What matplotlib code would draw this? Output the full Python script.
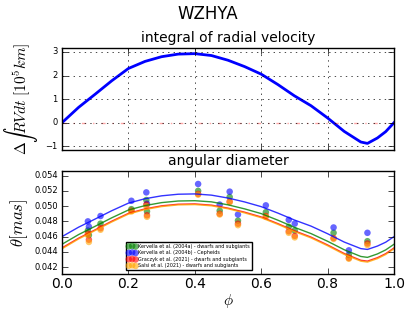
import matplotlib
matplotlib.use("Agg")
import matplotlib.pyplot as plt

plt.style.use('classic')

# phase grid for the model curves
phase = [0, .05, .1, .15, .2, .25, .3, .35, .4, .45, .5, .55, .6, .65, .7, .75, .8, .85, .9, .92, .95, .975, 1]
# integral of radial velocity [10^5 km]
rv_int = [0, 0.65, 1.21, 1.78, 2.3, 2.6, 2.8, 2.91, 2.93, 2.85, 2.65, 2.38, 2.06, 1.62, 1.14, 0.72, 0.2,
          -0.37, -0.82, -0.88, -0.65, -0.38, 0]

# model angular diameters [mas]
theta_kerv_dw = [0.04500, 0.04627, 0.04736, 0.04847, 0.04949, 0.05007, 0.05046, 0.05067, 0.05071, 0.05056,
                 0.05017, 0.04964, 0.04902, 0.04816, 0.04722, 0.04640, 0.04539, 0.04428, 0.04340, 0.04328,
                 0.04373, 0.04426, 0.04500]
theta_kerv_cep = [0.04600, 0.04724, 0.04831, 0.04940, 0.05039, 0.05097, 0.05135, 0.05156, 0.05160, 0.05144,
                  0.05106, 0.05055, 0.04993, 0.04909, 0.04818, 0.04738, 0.04638, 0.04529, 0.04443, 0.04432,
                  0.04476, 0.04527, 0.04600]
theta_gracz = [0.04452, 0.04580, 0.04690, 0.04803, 0.04905, 0.04964, 0.05004, 0.05025, 0.05029, 0.05013,
               0.04974, 0.04921, 0.04858, 0.04771, 0.04677, 0.04594, 0.04491, 0.04379, 0.04290, 0.04279,
               0.04324, 0.04377, 0.04452]
theta_salsi = [0.04440, 0.04569, 0.04680, 0.04792, 0.04895, 0.04955, 0.04994, 0.05016, 0.05020, 0.05004,
               0.04965, 0.04911, 0.04848, 0.04761, 0.04666, 0.04583, 0.04480, 0.04367, 0.04278, 0.04266,
               0.04311, 0.04365, 0.04440]

# observed epochs
obs_phase = [0.078, 0.081, 0.116, 0.209, 0.254, 0.256, 0.41, 0.475, 0.505, 0.53, 0.614, 0.683, 0.701,
             0.818, 0.864, 0.92]
obs_kerv_dw = [0.0468, 0.0462, 0.0477, 0.0496, 0.0508, 0.0493, 0.0520, 0.0494, 0.0512, 0.0481, 0.0492,
               0.0473, 0.0468, 0.0465, 0.0436, 0.0454]
obs_kerv_cep = [0.0480, 0.0473, 0.0487, 0.0507, 0.0518, 0.0503, 0.0529, 0.0502, 0.0519, 0.0489, 0.0501,
                0.0482, 0.0477, 0.0472, 0.0442, 0.0465]
obs_gracz = [0.0464, 0.0456, 0.0471, 0.0494, 0.0502, 0.0488, 0.0516, 0.0490, 0.0506, 0.0477, 0.0487,
             0.0467, 0.0461, 0.0458, 0.0432, 0.0451]
obs_salsi = [0.0462, 0.0453, 0.0469, 0.0493, 0.0500, 0.0486, 0.0515, 0.0489, 0.0505, 0.0475, 0.0486,
             0.0465, 0.0459, 0.0457, 0.0431, 0.0449]

labels = ['Kervella et al. (2004a) - dwarfs and subgiants',
          'Kervella et al. (2004b) - Cepheids',
          'Graczyk et al. (2021) - dwarfs and subgiants',
          'Salsi et al. (2021) - dwarfs and subgiants']

fig = plt.figure(figsize=(4.15, 3.12), dpi=100, facecolor='white')
fig.suptitle('WZHYA', fontsize=12, y=0.985)

# top panel
ax1 = fig.add_axes([0.1494, 0.5192, 0.80, 0.327])
ax1.plot(phase, rv_int, color='blue', lw=2)
ax1.axhline(0, color='red', ls='-.', lw=1, alpha=0.35)
ax1.set_xlim(0, 1)
ax1.set_ylim(-1.16, 3.17)
ax1.set_yticks([-1, 0, 1, 2, 3])
ax1.set_xticks([0, 0.2, 0.4, 0.6, 0.8, 1.0])
ax1.set_xticklabels([])
ax1.tick_params(axis='y', labelsize=6, pad=3)
ax1.grid(True)
ax1.set_title('integral of radial velocity', fontsize=10, pad=4)
ax1.set_ylabel(r'$\Delta \int RVdt\ [10^5 km]$', fontsize=11, labelpad=4)

# bottom panel
ax2 = fig.add_axes([0.1494, 0.1218, 0.80, 0.330])
ax2.plot(phase, theta_kerv_dw, color='green', lw=1, alpha=0.8)
ax2.plot(phase, theta_kerv_cep, color='blue', lw=1, alpha=0.8)
ax2.plot(phase, theta_gracz, color='red', lw=1, alpha=0.8)
ax2.plot(phase, theta_salsi, color='orange', lw=1, alpha=0.8)
ax2.scatter(obs_phase, obs_kerv_dw, s=22, color='green', alpha=0.6, edgecolors='none', label=labels[0])
ax2.scatter(obs_phase, obs_kerv_cep, s=22, color='blue', alpha=0.6, edgecolors='none', label=labels[1])
ax2.scatter(obs_phase, obs_gracz, s=22, color='red', alpha=0.6, edgecolors='none', label=labels[2])
ax2.scatter(obs_phase, obs_salsi, s=22, color='orange', alpha=0.6, edgecolors='none', label=labels[3])
ax2.set_xlim(0, 1)
ax2.set_ylim(0.0411, 0.0546)
ax2.set_yticks([0.042, 0.044, 0.046, 0.048, 0.050, 0.052, 0.054])
ax2.tick_params(axis='y', labelsize=6, pad=3)
ax2.tick_params(axis='x', labelsize=10, pad=2)
ax2.set_title('angular diameter', fontsize=10, pad=4)
ax2.set_ylabel(r'$\theta [mas]$', fontsize=12, labelpad=3)
ax2.set_xlabel(r'$\phi$', fontsize=11, labelpad=1)
ax2.legend(loc='lower left', bbox_to_anchor=(0.185, 0.02), fontsize=3.5, scatterpoints=3,
           handletextpad=0.3, borderpad=0.3, labelspacing=0.3)

fig.savefig('out.png', dpi=100, facecolor='white')
